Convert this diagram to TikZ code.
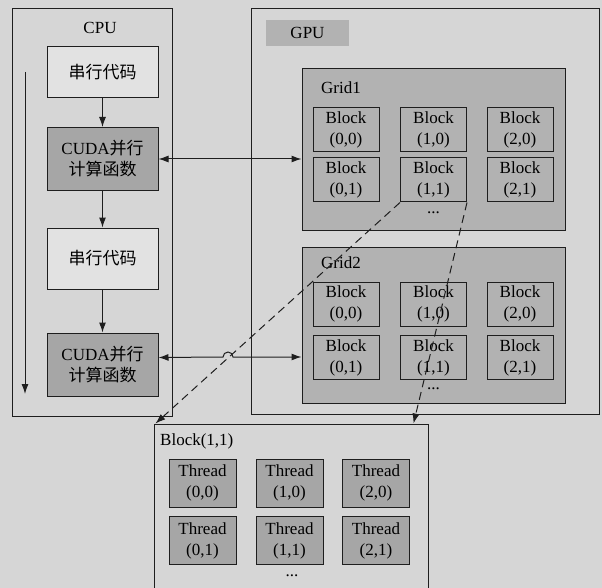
\documentclass[tikz,border=0pt]{standalone}
\usepackage{fontspec}
\setmainfont{Liberation Serif}
\newfontfamily\cjk{Noto Sans CJK SC}
\usetikzlibrary{arrows.meta,calc}
\definecolor{PaperGray}{RGB}{214,214,214}
\definecolor{SerialFill}{RGB}{226,226,226}
\definecolor{KernelFill}{RGB}{166,166,166}
\definecolor{GridFill}{RGB}{178,178,178}
\definecolor{InkGray}{RGB}{30,30,30}

\begin{document}
\begin{tikzpicture}[x=1pt, y=-1pt, font=\fontsize{17}{21}\selectfont,
  every node/.style={align=center, inner sep=0pt},
  box/.style={draw=InkGray, line width=1pt},
  serial/.style={box, fill=SerialFill, minimum width=111pt},
  kernel/.style={box, fill=KernelFill, minimum width=111pt, minimum height=63pt},
  gridbox/.style={box, fill=GridFill, minimum width=263pt},
  blockbox/.style={box, fill=GridFill, minimum width=66pt, minimum height=44pt},
  threadbox/.style={box, fill=KernelFill, minimum width=67pt, minimum height=48pt},
  link/.style={-{Latex[length=10pt,width=7pt]}, InkGray, line width=1pt},
  biglink/.style={{Latex[length=10pt,width=7pt]}-{Latex[length=10pt,width=7pt]}, InkGray, line width=1pt},
  dashlink/.style={link, dash pattern=on 8pt off 5pt}]
  \path[use as bounding box, fill=PaperGray] (0,0) rectangle (602,588);

  % host side
  \node[box, fill=PaperGray, minimum width=160pt, minimum height=407pt] (cpu) at (92,212.5) {};
  \node (cpulabel) at (100,28) {CPU};
  \node[serial, minimum height=51pt] (ser1) at (102.5,72.5) {\cjk 串行代码};
  \node[kernel] (cuda1) at (102.5,159) {CUDA{\cjk 并行}\\{\cjk 计算函数}};
  \node[serial, minimum height=61pt] (ser2) at (102.5,258.5) {\cjk 串行代码};
  \node[kernel] (cuda2) at (102.5,364.5) {CUDA{\cjk 并行}\\{\cjk 计算函数}};
  \draw[link] (ser1) -- (cuda1);
  \draw[link] (cuda1) -- (ser2);
  \draw[link] (ser2) -- (cuda2);
  \coordinate (flowtop) at (25,72);
  \coordinate (flowbot) at (25,394);
  \draw[link] (flowtop) -- (flowbot);

  % device side
  \node[box, fill=PaperGray, minimum width=348pt, minimum height=405pt] (gpu) at (425,211.5) {};
  \node[fill=GridFill, minimum width=83pt, minimum height=26pt] (gpulabel) at (307.5,33) {GPU};

  \node[gridbox, minimum height=161pt] (grid1) at (433.5,149.5) {};
  \node[anchor=west] (grid1label) at (321,88) {Grid1};
  \node[blockbox] (g1b00) at (346,130) {Block\\(0,0)};
  \node[blockbox] (g1b10) at (433.5,130) {Block\\(1,0)};
  \node[blockbox] (g1b20) at (520,130) {Block\\(2,0)};
  \node[blockbox] (g1b01) at (346,180) {Block\\(0,1)};
  \node[blockbox] (g1b11) at (433.5,180) {Block\\(1,1)};
  \node[blockbox] (g1b21) at (520,180) {Block\\(2,1)};
  \node (g1dots) at (433.5,213) {...};

  \node[gridbox, minimum height=156pt] (grid2) at (433.5,325) {};
  \node[anchor=west] (grid2label) at (321,263) {Grid2};
  \node[blockbox] (g2b00) at (346,304) {Block\\(0,0)};
  \node[blockbox] (g2b10) at (433.5,304) {Block\\(1,0)};
  \node[blockbox] (g2b20) at (520,304) {Block\\(2,0)};
  \node[blockbox] (g2b01) at (346,357.5) {Block\\(0,1)};
  \node[blockbox] (g2b11) at (433.5,357.5) {Block\\(1,1)};
  \node[blockbox] (g2b21) at (520,357.5) {Block\\(2,1)};
  \node (g2dots) at (433.5,389) {...};

  % one block, opened up
  \node[box, fill=PaperGray, minimum width=274pt, minimum height=170pt] (blk) at (291,509) {};
  \node[anchor=west] (blklabel) at (160,441) {Block(1,1)};
  \node[threadbox] (t00) at (202.5,483) {Thread\\(0,0)};
  \node[threadbox] (t10) at (289.5,483) {Thread\\(1,0)};
  \node[threadbox] (t20) at (376,483) {Thread\\(2,0)};
  \node[threadbox] (t01) at (202.5,540.5) {Thread\\(0,1)};
  \node[threadbox] (t11) at (289.5,540.5) {Thread\\(1,1)};
  \node[threadbox] (t21) at (376,540.5) {Thread\\(2,1)};
  \node (tdots) at (292,576) {...};

  \draw[dashlink] (g1b11.south west) -- ([xshift=2pt]blk.north west);
  \draw[dashlink] (g1b11.south east) -- ([xshift=-15pt]blk.north east);

  % kernel launches
  \draw[biglink] (cuda1.east) -- (cuda1.east -| grid1.west);
  \coordinate (hop) at (228,357);
  \draw[biglink] ([yshift=7pt]cuda2.east) -- ([xshift=-5pt]hop)
    arc (180:360:5) -- (hop -| grid2.west);
\end{tikzpicture}
\end{document}
